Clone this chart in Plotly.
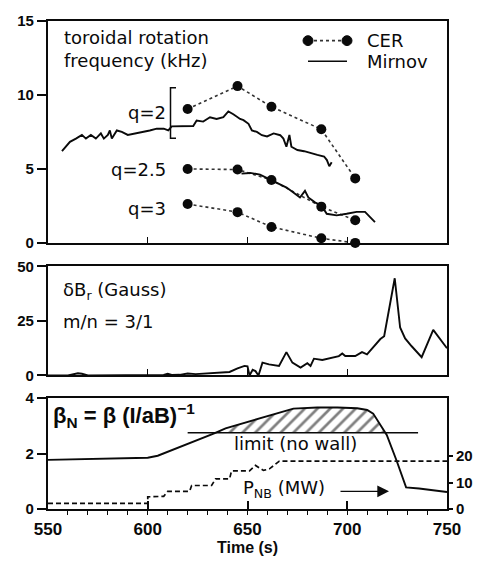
import numpy as np
import plotly.graph_objects as go

# ---------------- data ----------------
cer_t = [620, 645, 662, 687, 704]
cer_q2 = [9.05, 10.6, 9.2, 7.68, 4.36]
cer_q25 = [5.0, 4.96, 4.25, 2.45, 1.53]
cer_q3 = [2.63, 2.08, 1.08, 0.31, 0.0]

mir_q2_t = [557, 559, 561, 564, 567, 569, 571.5, 574, 576.5, 578, 580, 581, 582, 584.5,
            587, 590, 594, 598, 601, 604.5, 608, 610.3, 611.5, 612, 622.8, 624.5, 627.8,
            631.2, 634.5, 637.9, 640.4, 642.9, 646.3, 648, 650.5, 652.2, 654.7, 657.2,
            659.8, 663.1, 666.4, 668, 669.5, 671, 672, 675, 678.4, 681.7, 685, 688.4,
            689.8, 691, 692.2]
mir_q2 = [6.2, 6.5, 6.83, 7.05, 7.3, 7.05, 7.3, 7.05, 7.4, 7.05, 7.3, 7.6, 7.05, 7.6,
          7.5, 7.3, 7.4, 7.5, 7.6, 7.72, 7.72, 7.6, 7.75, 7.88, 7.9, 8.27, 8.2,
          8.49, 8.38, 8.5, 8.89, 8.7, 8.38, 8.3, 8.05, 7.6, 7.5, 7.28,
          7.2, 7.4, 7.28, 7.05, 6.5, 7.3, 6.5, 6.28, 6.2, 6.06, 5.95, 5.84,
          5.6, 5.18, 5.45]

mir_q25_t = [647, 651.3, 656.3, 661.3, 666.3, 669.6, 673, 676.3, 678.8, 680.5, 683.8,
             687.2, 689.7, 694.7, 699.7, 704.7, 708.9, 710.5, 713.9]
mir_q25 = [4.68, 4.73, 4.62, 4.29, 3.96, 3.74, 3.41, 3.07, 3.52, 3.07, 2.74,
           2.52, 1.97, 1.86, 1.97, 2.1, 2.1, 1.86, 1.41]

db_t = [550, 560, 565, 567, 570, 600, 608, 610, 612, 616, 620, 624, 628, 632, 636, 641,
        645, 648.5, 650, 651, 652.6, 654, 655.5, 657.5, 660.8, 665.8, 669.5, 672.5,
        676.6, 680, 681.6, 683.3, 687.5, 692.5, 695.8, 697.5, 699, 704, 707.4, 709.9,
        714, 716.6, 718.5, 723.8, 726.5, 729, 732.3, 737.3, 743.1, 749, 750]
db = [0, 0, 1.0, 0.8, 0, 0.2, 0.2, 0.8, 0.2, 0.3, 0.9, 0.6, 0.9, 1.0, 1.2, 1.6,
      3.2, 4.4, 4.2, 0, 2.6, 2.0, 0, 5.9, 5.1, 4.4, 10.7, 5.9,
      3.6, 5.6, 4.4, 7.7, 7.1, 8.1, 8.9, 10.1, 8.9, 8.9, 10.7, 9.7,
      13.7, 16.7, 18.0, 44.6, 22.0, 17.0, 13.4, 8.4, 20.9, 13.4, 12.5]

bn_t = [550, 575, 600, 605, 612, 620, 626, 633, 639, 646, 655, 663, 673, 685, 695,
        705, 710, 713, 716.4, 719.8, 724.8, 729.5, 736, 750]
bn = [1.77, 1.8, 1.85, 1.92, 2.12, 2.32, 2.5, 2.72, 2.91, 3.06, 3.25, 3.42, 3.62, 3.66,
      3.66, 3.63, 3.57, 3.44, 3.04, 2.67, 1.73, 0.78, 0.74, 0.61]

lim_t = [620, 735.5]
lim = [2.75, 2.75]

pnb_t = [550, 600, 600, 608, 610, 621, 622, 632, 634, 641, 642, 651, 654, 658, 661, 664, 666, 750]
pnb = [2.1, 2.1, 4.6, 4.8, 6.7, 6.7, 8.9, 8.9, 11.4, 11.4, 14.4, 14.4, 16.5, 14.6, 15.2, 16.8, 18.1, 18.1]

x_ticks = [550, 600, 650, 700, 750]
rot_ticks = [0, 5, 10, 15]
db_ticks = [0, 25, 50]
bn_ticks = [0, 2, 4]
pnb_ticks = [0, 10, 20]

# ---------------- figure ----------------
FONT = "Liberation Sans"
TXT = "DejaVu Sans"
INK = "#0a0a0a"

fig = go.Figure()

# top panel
for vals in (cer_q2, cer_q25, cer_q3):
    fig.add_trace(go.Scatter(x=cer_t, y=vals, mode="lines+markers", xaxis="x", yaxis="y",
                             line=dict(color="#333", width=1.6, dash="dot"),
                             marker=dict(size=10, color=INK), cliponaxis=False))
for tt, vv in ((mir_q2_t, mir_q2), (mir_q25_t, mir_q25)):
    fig.add_trace(go.Scatter(x=tt, y=vv, mode="lines", xaxis="x", yaxis="y",
                             line=dict(color=INK, width=1.9)))

# middle panel
fig.add_trace(go.Scatter(x=db_t, y=db, mode="lines", xaxis="x2", yaxis="y2",
                         line=dict(color=INK, width=1.9)))

# bottom panel: hatched region above limit
bn_t_a = np.array(bn_t, dtype=float)
bn_a = np.array(bn, dtype=float)
L = lim[0]
idx = np.where(bn_a > L)[0]
i0, i1 = idx[0], idx[-1]
t_cross1 = bn_t_a[i0 - 1] + (L - bn_a[i0 - 1]) * (bn_t_a[i0] - bn_t_a[i0 - 1]) / (bn_a[i0] - bn_a[i0 - 1])
t_cross2 = bn_t_a[i1] + (L - bn_a[i1]) * (bn_t_a[i1 + 1] - bn_t_a[i1]) / (bn_a[i1 + 1] - bn_a[i1])
poly_x = [t_cross1] + list(bn_t_a[i0:i1 + 1]) + [t_cross2, t_cross1]
poly_y = [L] + list(bn_a[i0:i1 + 1]) + [L, L]
fig.add_trace(go.Scatter(x=poly_x, y=poly_y, mode="none", fill="toself", xaxis="x3", yaxis="y3",
                         fillcolor="rgba(0,0,0,0)",
                         fillpattern=dict(shape="/", size=9, solidity=0.3, fgcolor="#000",
                                          bgcolor="rgba(0,0,0,0)")))
fig.add_trace(go.Scatter(x=lim_t, y=lim, mode="lines", xaxis="x3", yaxis="y3",
                         line=dict(color=INK, width=1.4)))
fig.add_trace(go.Scatter(x=bn_t, y=bn, mode="lines", xaxis="x3", yaxis="y3",
                         line=dict(color=INK, width=1.9)))
fig.add_trace(go.Scatter(x=pnb_t, y=pnb, mode="lines", xaxis="x3", yaxis="y4",
                         line=dict(color=INK, width=1.7, dash="5px,3px")))

# ---------------- axes ----------------
frame = dict(showline=True, linewidth=2.2, linecolor=INK, mirror=True, showgrid=False,
             zeroline=False)
tickf = dict(family=FONT, size=15, color=INK, weight="bold")

d_top = [(509 - 238) / 497, 1.0]
d_mid = [(509 - 373) / 497, (509 - 262) / 497]
d_bot = [0.0, (509 - 396) / 497]

xcommon = dict(range=[550, 750], tickvals=x_ticks, **frame)
fig.update_layout(
    xaxis=dict(anchor="y", ticks="inside", ticklen=6, tickwidth=1.2, tickcolor=INK,
               showticklabels=False, **xcommon),
    yaxis=dict(domain=d_top, anchor="x", range=[0, 15], tickvals=rot_ticks, ticks="outside",
               ticklen=9, tickwidth=1.5, tickcolor=INK, tickfont=tickf, **frame),
    xaxis2=dict(anchor="y2", ticks="inside", ticklen=6, tickwidth=1.2, tickcolor=INK,
                showticklabels=False, **xcommon),
    yaxis2=dict(domain=d_mid, anchor="x2", range=[0, 50], tickvals=db_ticks, ticks="outside",
                ticklen=9, tickwidth=1.5, tickcolor=INK, tickfont=tickf, **frame),
    xaxis3=dict(anchor="y3", ticks="inside", ticklen=8, tickwidth=1.5, tickcolor=INK,
                tickfont=dict(family=FONT, size=17, color=INK, weight="bold"),
                ticklabelstandoff=3,
                minor=dict(dtick=10, ticks="outside", ticklen=4, tickwidth=1, tickcolor=INK),
                **xcommon),
    yaxis3=dict(domain=d_bot, anchor="x3", range=[0, 4], tickvals=bn_ticks, ticks="outside",
                ticklen=9, tickwidth=1.5, tickcolor=INK, tickfont=tickf, **frame),
    yaxis4=dict(overlaying="y3", side="right", anchor="x3", range=[0, 42], tickvals=pnb_ticks,
                ticks="outside", ticklen=5, tickwidth=1.5, tickcolor=INK, tickfont=tickf,
                showline=False, showgrid=False, zeroline=False),
)

# ---------------- text & decorations ----------------
def pp(py):
    return (509 - py) / 497

def px(p):
    return (p - 48) / 399

tf = dict(family=TXT, size=18, color=INK)
ann = []
ann.append(dict(x=px(62), y=pp(41), xref="paper", yref="paper", xanchor="left",
                yanchor="middle", showarrow=False, align="left", font=tf,
                text="toroidal rotation<br>frequency (kHz)"))
# legend
ann.append(dict(x=px(365), y=pp(32), xref="paper", yref="paper", xanchor="left",
                yanchor="middle", showarrow=False, font=tf, text="CER"))
ann.append(dict(x=px(365), y=pp(53), xref="paper", yref="paper", xanchor="left",
                yanchor="middle", showarrow=False, font=tf, text="Mirnov"))
# q labels
for lab, py in (("q=2", 105), ("q=2.5", 163), ("q=3", 203)):
    ann.append(dict(x=px(168), y=pp(py), xref="paper", yref="paper", xanchor="right",
                    yanchor="middle", showarrow=False, font=tf, text=lab))
# middle
ann.append(dict(x=px(61), y=pp(287), xref="paper", yref="paper", xanchor="left",
                yanchor="middle", showarrow=False, font=tf, text="δB<sub>r</sub> (Gauss)"))
ann.append(dict(x=px(61), y=pp(318), xref="paper", yref="paper", xanchor="left",
                yanchor="middle", showarrow=False, font=tf, text="m/n = 3/1"))
# bottom
ann.append(dict(x=px(51), y=pp(414), xref="paper", yref="paper", xanchor="left",
                yanchor="middle", showarrow=False,
                font=dict(family=FONT, size=22, color=INK, weight="bold"),
                text="β<sub>N</sub> = β (I/aB)<sup>−1</sup>"))
ann.append(dict(x=px(295), y=pp(442), xref="paper", yref="paper", xanchor="center",
                yanchor="middle", showarrow=False, font=tf, text="limit (no wall)"))
ann.append(dict(x=px(241), y=pp(489), xref="paper", yref="paper", xanchor="left",
                yanchor="middle", showarrow=False, font=tf, text="P<sub>NB</sub> (MW)"))
ann.append(dict(x=px(389), y=pp(491), ax=-50, ay=0,
                xref="paper", yref="paper", text="",
                showarrow=True, arrowhead=2, arrowsize=1.8, arrowwidth=1.3, arrowcolor=INK))
ann.append(dict(x=px(247), y=pp(548), xref="paper", yref="paper", xanchor="center",
                yanchor="middle", showarrow=False,
                font=dict(family=FONT, size=16, color=INK, weight="bold"), text="Time (s)"))

shapes = []
# legend samples
shapes.append(dict(type="line", xref="paper", yref="paper", x0=px(308), x1=px(347),
                   y0=pp(32), y1=pp(32), line=dict(color="#333", width=1.6, dash="dot")))
for cx in (308, 347):
    shapes.append(dict(type="circle", xref="paper", yref="paper", fillcolor=INK,
                       line=dict(color=INK, width=1),
                       x0=px(cx - 5), x1=px(cx + 5), y0=pp(37), y1=pp(27)))
shapes.append(dict(type="line", xref="paper", yref="paper", x0=px(308), x1=px(347),
                   y0=pp(53), y1=pp(53), line=dict(color=INK, width=1.5)))
# bracket for q=2
shapes.append(dict(type="path", xref="paper", yref="paper",
                   path="M %f,%f L %f,%f L %f,%f L %f,%f" % (
                       px(176), pp(80), px(170.5), pp(80),
                       px(170.5), pp(131.5), px(176), pp(131.5)),
                   line=dict(color=INK, width=1.5)))

fig.update_layout(
    width=487, height=566, margin=dict(l=48, r=40, t=12, b=57),
    paper_bgcolor="white", plot_bgcolor="white", showlegend=False,
    annotations=ann, shapes=shapes,
)

fig.write_html("out.html")
